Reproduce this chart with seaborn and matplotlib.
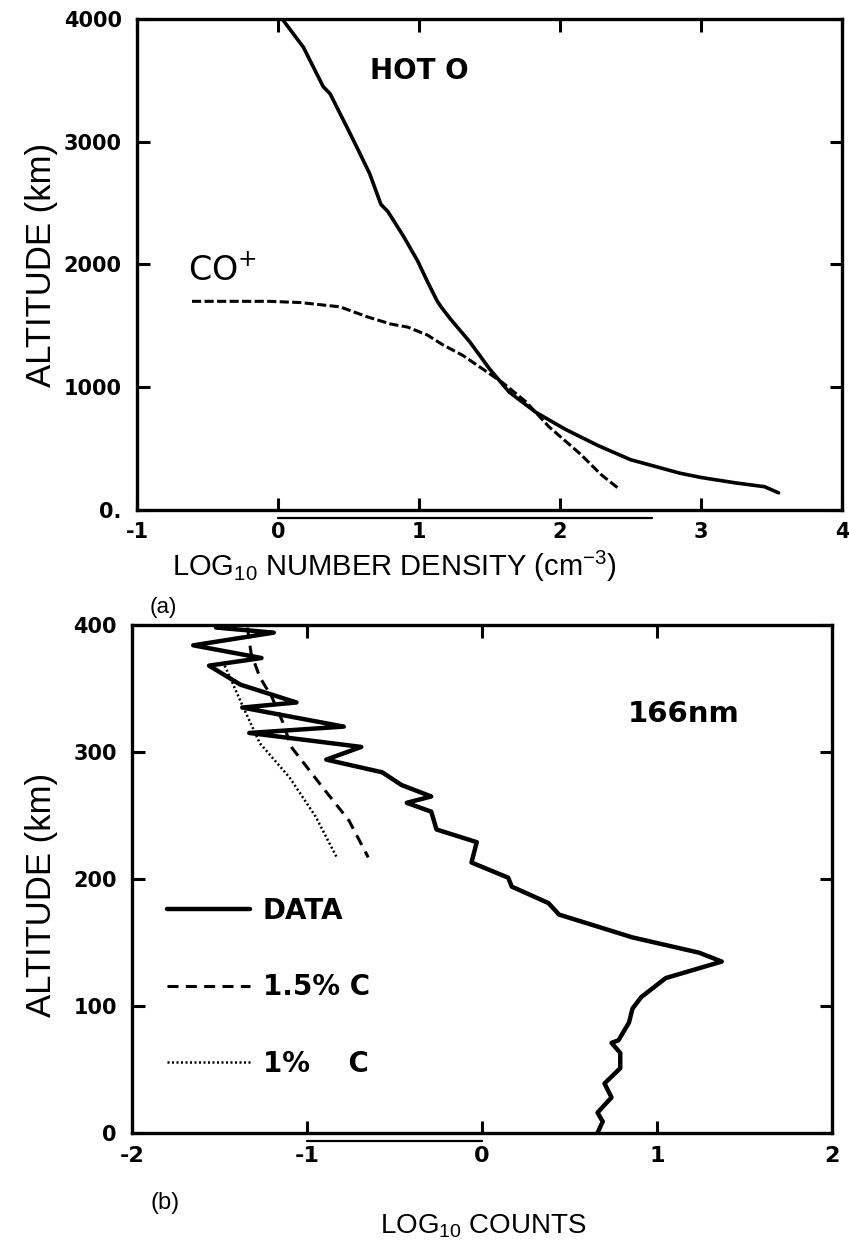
import matplotlib
matplotlib.use("Agg")
import matplotlib.pyplot as plt
import matplotlib.transforms as mtransforms
from matplotlib import font_manager
import seaborn as sns

# ---- panel (a): altitude profiles of number density ----
hot_o_log_density = [0.03, 0.18, 0.32, 0.37, 0.51, 0.57, 0.65, 0.73, 0.78, 0.89, 0.99,
                     1.06, 1.13, 1.16, 1.22, 1.36, 1.50, 1.64, 1.83, 2.04, 2.27, 2.50,
                     2.85, 3.00, 3.25, 3.45, 3.55]
hot_o_altitude = [4000, 3770, 3450, 3390, 3070, 2930, 2740, 2490, 2430, 2230, 2030,
                  1860, 1700, 1650, 1560, 1370, 1150, 960, 795, 656, 525, 410,
                  300, 265, 220, 190, 140]

co_plus_log_density = [-0.61, -0.07, 0.16, 0.44, 0.63, 0.80, 0.92, 1.06, 1.17, 1.31,
                       1.45, 1.59, 1.76, 1.92, 2.15, 2.29, 2.41]
co_plus_altitude = [1700, 1700, 1690, 1655, 1575, 1515, 1490, 1425, 1345, 1260,
                    1150, 1040, 880, 680, 450, 290, 180]

density_ticks = [-1, 0, 1, 2, 3, 4]
density_tick_labels = ["-1", "0", "1", "2", "3", "4"]
altitude_a_ticks = [0, 1000, 2000, 3000, 4000]
altitude_a_tick_labels = ["0.", "1000", "2000", "3000", "4000"]
underline_a = [0, 2.65]

# ---- panel (b): 166 nm counts versus altitude ----
data_log_counts = [-1.52, -1.19, -1.65, -1.26, -1.56, -1.38, -1.06, -1.37, -0.79, -1.33,
                   -0.69, -0.89, -0.57, -0.46, -0.29, -0.43, -0.29, -0.26, -0.03, -0.06,
                   0.15, 0.17, 0.38, 0.44, 0.86, 1.24, 1.37, 1.05, 0.91, 0.86,
                   0.84, 0.78, 0.74, 0.79, 0.79, 0.70, 0.74, 0.66, 0.69, 0.66]
data_altitude = [398, 394, 384, 374, 368, 353, 339, 335, 320, 315,
                 304, 294, 284, 274, 265, 260, 253, 239, 229, 213,
                 201, 194, 181, 172, 154, 142, 135, 122, 107, 98,
                 87, 73, 71, 63, 51, 39, 28, 16, 9, 0]

c15_log_counts = [-1.34, -1.32, -1.27, -1.20, -1.14, -1.09, -0.91, -0.76, -0.65]
c15_altitude = [398, 378, 359, 343, 324, 304, 272, 246, 217]

c10_log_counts = [-1.47, -1.37, -1.27, -1.10, -0.95, -0.83]
c10_altitude = [368, 337, 307, 280, 249, 217]

counts_ticks = [-2, -1, 0, 1, 2]
counts_tick_labels = ["-2", "-1", "0", "1", "2"]
altitude_b_ticks = [0, 100, 200, 300, 400]
altitude_b_tick_labels = ["0", "100", "200", "300", "400"]
underline_b = [-1, 0]

legend_labels = ["DATA", "1.5% C", "1%    C"]

# ---- styling ----
sns.set_theme(style="white")
available = {f.name for f in font_manager.fontManager.ttflist}
label_family = "Liberation Sans Narrow" if "Liberation Sans Narrow" in available else "Liberation Sans"
bold_family = "DejaVu Sans"
plt.rcParams["font.family"] = [label_family, "DejaVu Sans"]
plt.rcParams["mathtext.fontset"] = "custom"
plt.rcParams["mathtext.default"] = "regular"
for key in ["text.color", "axes.labelcolor", "xtick.color", "ytick.color", "axes.edgecolor"]:
    plt.rcParams[key] = "black"

W, H = 849, 1246
fig = plt.figure(figsize=(W / 100, H / 100), dpi=100)
fig.patch.set_facecolor("white")


def box(left, top, right, bottom):
    return [left / W, 1 - bottom / H, (right - left) / W, (bottom - top) / H]


ax_a = fig.add_axes(box(137, 19, 842, 510))
ax_b = fig.add_axes(box(132, 625, 832, 1133))

# panel (a) curves
sns.lineplot(x=hot_o_log_density, y=hot_o_altitude, sort=False, estimator=None,
             color="black", lw=2.6, ax=ax_a)
sns.lineplot(x=co_plus_log_density, y=co_plus_altitude, sort=False, estimator=None,
             color="black", lw=2.2, linestyle=(0, (3.0, 1.1)), ax=ax_a)

# panel (b) curves
sns.lineplot(x=data_log_counts, y=data_altitude, sort=False, estimator=None,
             color="black", lw=3.2, ax=ax_b)
h_data = ax_b.lines[-1]
sns.lineplot(x=c15_log_counts, y=c15_altitude, sort=False, estimator=None,
             color="black", lw=2.2, linestyle=(0, (3.6, 2.4)), ax=ax_b)
h_c15 = ax_b.lines[-1]
sns.lineplot(x=c10_log_counts, y=c10_altitude, sort=False, estimator=None,
             color="black", lw=1.8, linestyle=(0, (0.8, 1.0)), ax=ax_b)
h_c10 = ax_b.lines[-1]


def style_axes(ax, xlim, ylim, xticks, xlabels, yticks, ylabels, xsize, ysize, underline):
    ax.set_xlim(*xlim)
    ax.set_ylim(*ylim)
    ax.set_xlabel("")
    ax.set_ylabel("")
    ax.set_facecolor("white")
    for sp in ax.spines.values():
        sp.set_visible(True)
        sp.set_color("black")
        sp.set_linewidth(2.4)
    ax.set_xticks(xticks)
    ax.set_xticklabels(xlabels)
    ax.set_yticks(yticks)
    ax.set_yticklabels(ylabels)
    ax.tick_params(axis="both", direction="in", length=9, width=2.2, colors="black",
                   bottom=True, top=True, left=True, right=True)
    ax.tick_params(axis="x", pad=9)
    ax.tick_params(axis="y", pad=11)
    for lbl in ax.get_xticklabels():
        lbl.set_family(bold_family)
        lbl.set_fontweight("bold")
        lbl.set_fontsize(xsize)
        lbl.set_color("black")
    for lbl in ax.get_yticklabels():
        lbl.set_family(bold_family)
        lbl.set_fontweight("bold")
        lbl.set_fontsize(ysize)
        lbl.set_color("black")
    ax.grid(False)
    # second rule drawn just under the horizontal axis
    trans = ax.get_xaxis_transform() + mtransforms.ScaledTranslation(0, -8 / 100, fig.dpi_scale_trans)
    ax.plot(underline, [0, 0], color="black", lw=1.6, transform=trans, clip_on=False)


style_axes(ax_a, (-1, 4), (0, 4000), density_ticks, density_tick_labels,
           altitude_a_ticks, altitude_a_tick_labels, 15, 15, underline_a)
style_axes(ax_b, (-2, 2), (0, 400), counts_ticks, counts_tick_labels,
           altitude_b_ticks, altitude_b_tick_labels, 16, 15, underline_b)

# in-panel annotations
ax_a.text(1.0, 3580, "HOT O", fontsize=20, fontweight="bold", family=bold_family,
          ha="center", va="center")
ax_a.text(-0.64, 1870, "CO$^{+}$", fontsize=24, family="DejaVu Sans",
          ha="left", va="baseline")
ax_b.text(1.15, 330, "166nm", fontsize=21, fontweight="bold", family=bold_family,
          ha="center", va="center")

leg = ax_b.legend([h_data, h_c15, h_c10], legend_labels, loc="upper left",
                  bbox_to_anchor=(0.05, 0.465), frameon=False, handlelength=3.0,
                  handletextpad=0.45, labelspacing=1.75, borderpad=0, borderaxespad=0,
                  prop={"family": bold_family, "weight": "bold", "size": 20})
for t in leg.get_texts():
    t.set_color("black")

# axis titles and panel tags


def ftext(x, y, s, **kw):
    fig.text(x / W, 1 - y / H, s, color="black", **kw)


ftext(42, 265, "ALTITUDE (km)", rotation=90, fontsize=25, ha="center", va="center")
ftext(42, 895, "ALTITUDE (km)", rotation=90, fontsize=25, ha="center", va="center")
ftext(394, 566, r"LOG$_{10}$ NUMBER DENSITY (cm$^{-3}$)", fontsize=21, ha="center", va="center")
ftext(483, 1226, r"LOG$_{10}$ COUNTS", fontsize=20, ha="center", va="center")
ftext(163, 607, "(a)", fontsize=16, ha="center", va="center")
ftext(165, 1203, "(b)", fontsize=17, ha="center", va="center")

fig.savefig("out.png", dpi=100, facecolor="white")
